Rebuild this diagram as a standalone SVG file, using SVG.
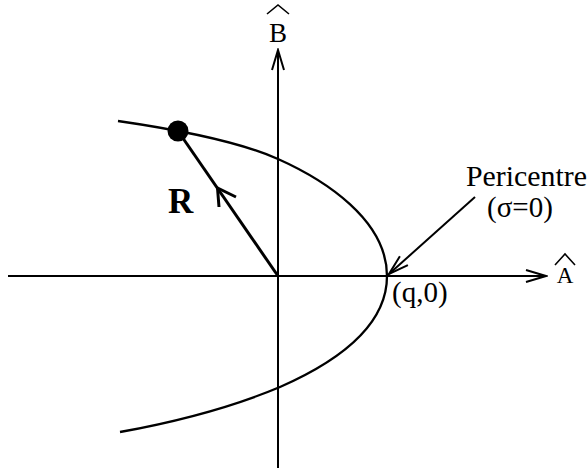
<svg xmlns="http://www.w3.org/2000/svg" width="588" height="476" viewBox="0 0 588 476">
<style>
  text { font-family: "Liberation Serif", "Times New Roman", serif; fill: #000; }
  .ln { fill: none; stroke: #000; stroke-width: 2; }
  .curve { fill: none; stroke: #000; stroke-width: 2.3; }
  .hat { fill: none; stroke: #000; stroke-width: 1.6; }
  .lbl { font-size: 29px; }
</style>
<defs>
  <marker id="arr" markerUnits="userSpaceOnUse" markerWidth="24" markerHeight="16" viewBox="-22 -8 24 16" refX="0" refY="0" orient="auto">
    <path d="M-20,-6 L0,0 L-20,6" fill="none" stroke="#000" stroke-width="2"/>
  </marker>
</defs>
<g id="connectors">
  <line id="axis-a" class="ln" x1="8" y1="276" x2="546" y2="276" marker-end="url(#arr)"/>
  <line id="axis-b" class="ln" x1="278" y1="468" x2="278" y2="50" marker-end="url(#arr)"/>
  <line id="pericentre-arrow" class="ln" x1="475" y1="197" x2="389" y2="274" marker-end="url(#arr)"/>
  <g id="r-vector">
    <line x1="278" y1="276" x2="178" y2="131" stroke="#000" stroke-width="3"/>
    <path d="M219,207 L217.5,188 L236,197" fill="none" stroke="#000" stroke-width="3"/>
  </g>
</g>
<g id="orbit">
  <path class="curve" d="M118,121 C180,130 240,142 278,159 C325,180 387,220 387,276 C387,330 330,365 280,387 C230,408 175,422 120,432"/>
</g>
<g id="body">
  <circle cx="178" cy="131" r="10.5" fill="#000"/>
</g>
<g id="label-b">
  <polyline class="hat" points="267,14 278,5 289,14"/>
  <text x="278" y="42" text-anchor="middle" font-size="27">B</text>
</g>
<g id="label-a">
  <polyline class="hat" points="555,265 565,254 575,265"/>
  <text x="565" y="283" text-anchor="middle" font-size="23">A</text>
</g>
<g id="label-r">
  <text x="168" y="213" font-size="35" font-weight="bold">R</text>
</g>
<g id="label-pericentre">
  <text x="466" y="186" font-size="29" textLength="121" lengthAdjust="spacingAndGlyphs">Pericentre</text>
  <text x="487" y="217" font-size="29">(σ=0)</text>
</g>
<g id="label-q">
  <text class="lbl" x="392" y="302">(q,0)</text>
</g>
</svg>
